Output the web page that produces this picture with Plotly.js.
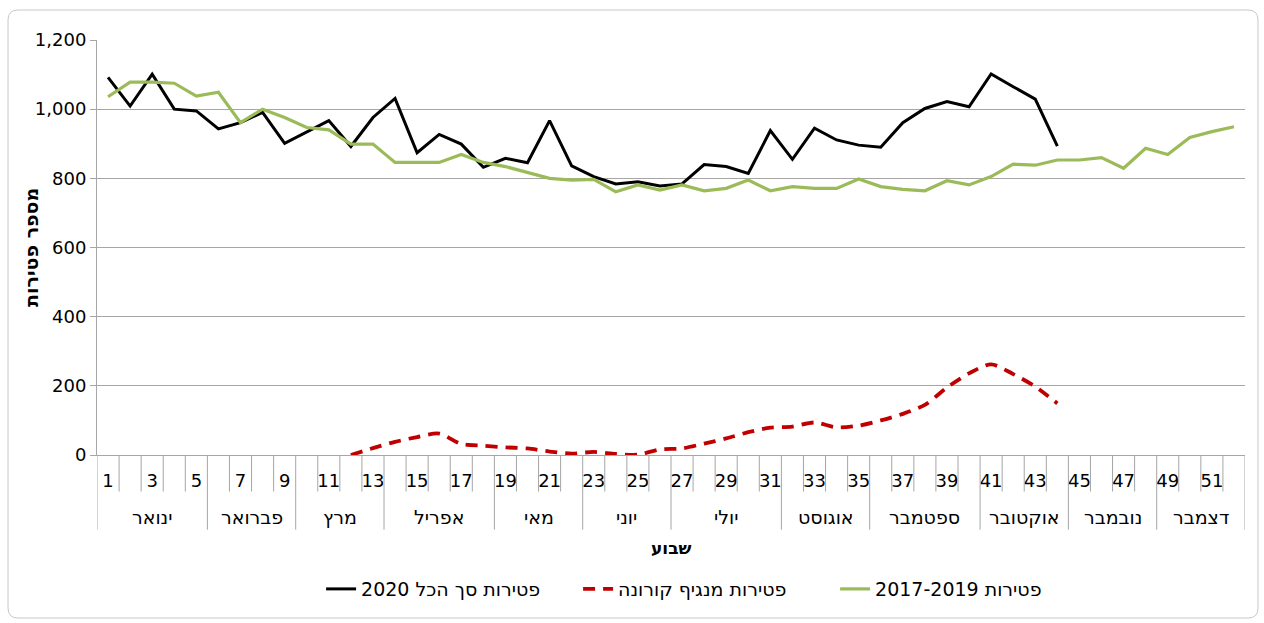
<!DOCTYPE html>
<html><head><meta charset="utf-8">
<script src="https://cdn.plot.ly/plotly-3.0.1.min.js"></script>
<style>html,body{margin:0;padding:0;background:#fff;} #chart{width:1264px;height:623px;}</style>
</head><body><div id="chart"></div>
<script>
const weeks = [1,2,3,4,5,6,7,8,9,10,11,12,13,14,15,16,17,18,19,20,21,22,23,24,25,26,27,28,29,30,31,32,33,34,35,36,37,38,39,40,41,42,43,44,45,46,47,48,49,50,51,52];
const weekTickVals = [1,3,5,7,9,11,13,15,17,19,21,23,25,27,29,31,33,35,37,39,41,43,45,47,49,51];
const weekTickText = ["1","3","5","7","9","11","13","15","17","19","21","23","25","27","29","31","33","35","37","39","41","43","45","47","49","51"];
const monthNames = ["ינואר","פברואר","מרץ","אפריל","מאי","יוני","יולי","אוגוסט","ספטמבר","אוקטובר","נובמבר","דצמבר"];
const monthFirstWeek = [1,6,10,14,19,23,27,32,36,41,45,49];
const monthLastWeek = [5,9,13,18,22,26,31,35,40,44,48,52];
const yTickVals = [0,200,400,600,800,1000,1200];

const total2020 = [1092,1009,1101,1000,995,943,961,991,901,935,967,892,976,1031,874,927,899,832,858,845,967,836,805,784,790,778,784,840,834,814,938,855,945,911,896,890,961,1002,1022,1007,1102,1065,1029,893];
const corona = [null,null,null,null,null,null,null,null,null,null,null,0,20,38,52,62,32,27,22,19,10,4,9,3,1,16,19,33,48,66,79,82,94,80,85,100,119,145,195,236,262,234,198,149];
const avg2017_2019 = [1036,1078,1078,1075,1038,1049,961,1000,976,947,940,899,899,846,846,846,869,846,834,816,800,795,797,761,781,766,781,764,771,795,764,776,771,771,798,776,768,764,793,781,805,841,838,853,853,860,829,887,869,918,935,949];

const nameTotal = "\u202Bפטירות סך הכל 2020\u202C";
const nameCorona = "פטירות מנגיף קורונה";
const nameAvg = "\u202Bפטירות 2017-2019\u202C";
const yTitle = "מספר פטירות";
const xTitle = "שבוע";

const FONT = "DejaVu Sans, Liberation Sans, Arial, sans-serif";

const traces = [
  {x: weeks.slice(0, total2020.length), y: total2020, type: 'scatter', mode: 'lines', name: nameTotal,
   line: {color: '#000000', width: 3}},
  {x: weeks.slice(0, corona.length), y: corona, type: 'scatter', mode: 'lines', name: nameCorona,
   line: {color: '#C00000', width: 3.8, dash: '12px,8px', shape: 'spline', smoothing: 0.8}, connectgaps: false},
  {x: weeks, y: avg2017_2019, type: 'scatter', mode: 'lines', name: nameAvg,
   line: {color: '#9BBB59', width: 3.2}}
];

const shapes = [];
const boundaries = weeks.map(w => w - 0.5).concat([weeks[weeks.length-1] + 0.5]);
const monthBounds = monthFirstWeek.map(w => w - 0.5).concat([monthLastWeek[monthLastWeek.length-1] + 0.5]);
boundaries.forEach(b => {
  const isMonth = monthBounds.indexOf(b) >= 0;
  shapes.push({type: 'line', xref: 'x', yref: 'paper', x0: b, x1: b, y0: 0, y1: isMonth ? -0.18 : -0.088,
    line: {color: '#A6A6A6', width: 1}, layer: 'above'});
});
// outer rounded border
const L = -0.0775, R = 1.0113, T = 1.0723, B = -0.3928, rx = 0.0087, ry = 0.024;
shapes.push({type: 'path', xref: 'paper', yref: 'paper',
  path: `M ${L+rx} ${T} L ${R-rx} ${T} Q ${R} ${T} ${R} ${T-ry} L ${R} ${B+ry} Q ${R} ${B} ${R-rx} ${B} L ${L+rx} ${B} Q ${L} ${B} ${L} ${B+ry} L ${L} ${T-ry} Q ${L} ${T} ${L+rx} ${T} Z`,
  line: {color: '#C8C8C8', width: 1}, layer: 'below'});

const annotations = monthNames.map((m, i) => ({
  text: m, xref: 'x', yref: 'paper', x: (monthFirstWeek[i] + monthLastWeek[i]) / 2, y: -0.149,
  showarrow: false, font: {family: FONT, size: 19, color: '#000'}, xanchor: 'center', yanchor: 'middle'
}));
annotations.push({text: '<b>' + xTitle + '</b>', xref: 'paper', yref: 'paper', x: 0.5, y: -0.224,
  showarrow: false, font: {family: FONT, size: 17, color: '#000'}, xanchor: 'center', yanchor: 'middle'});
annotations.push({text: '<b>' + yTitle + '</b>', xref: 'paper', yref: 'paper', x: -0.058, y: 0.5,
  textangle: -90, showarrow: false, font: {family: FONT, size: 19, color: '#000'}, xanchor: 'center', yanchor: 'middle'});

const layout = {
  width: 1264, height: 623,
  margin: {l: 97, r: 19, t: 40, b: 168},
  paper_bgcolor: '#fff', plot_bgcolor: '#fff',
  font: {family: FONT, size: 17, color: '#000'},
  showlegend: true,
  legend: {orientation: 'h', x: 0.531, xanchor: 'center', y: -0.323, yanchor: 'middle',
    font: {family: FONT, size: 19, color: '#000'}, traceorder: 'normal',
    entrywidth: 212, entrywidthmode: 'pixels'},
  xaxis: {range: [0.5, 52.5], tickmode: 'array', tickvals: weekTickVals, ticktext: weekTickText,
    showgrid: false, zeroline: false, showline: true, linecolor: '#A6A6A6', linewidth: 1,
    ticks: '', ticklabelstandoff: 9, tickfont: {family: FONT, size: 18, color: '#000'}, fixedrange: true},
  yaxis: {range: [0, 1200], tickmode: 'array', tickvals: yTickVals, tickformat: ',d',
    showgrid: true, gridcolor: '#A6A6A6', gridwidth: 1, zeroline: false, showline: true,
    linecolor: '#A6A6A6', linewidth: 1, ticks: 'outside', ticklen: 6, tickcolor: '#A6A6A6',
    tickfont: {family: FONT, size: 18, color: '#000'}, fixedrange: true},
  shapes: shapes,
  annotations: annotations
};

Plotly.newPlot('chart', traces, layout, {displayModeBar: false, staticPlot: true});
</script>
</body></html>
